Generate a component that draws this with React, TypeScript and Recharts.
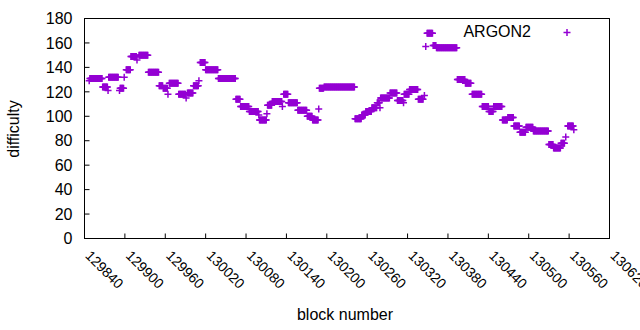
import { ScatterChart, Scatter, XAxis, YAxis, Legend, Label, ReferenceArea } from 'recharts';

// runs of consecutive blocks that share one difficulty value
const runStart = [
  129848, 129867, 129876, 129893, 129902, 129909, 129921, 129935, 129951, 129957,
  129966, 129980, 129993, 130002, 130012, 130020, 130039, 130065, 130072, 130085,
  130100, 130112, 130119, 130136, 130143, 130157, 130171, 130179, 130189, 130196,
  130242, 130252, 130258, 130267, 130275, 130280, 130294, 130305, 130315, 130323,
  130336, 130349, 130358, 130363, 130394, 130406, 130416, 130431, 130441, 130448,
  130461, 130469, 130478, 130487, 130496, 130507, 130530, 130537, 130548, 130558,
];
const runEnd = [
  129866, 129874, 129890, 129898, 129908, 129917, 129934, 129950, 129956, 129963,
  129979, 129990, 130001, 130009, 130019, 130038, 130064, 130071, 130084, 130098,
  130110, 130118, 130133, 130142, 130156, 130170, 130178, 130187, 130195, 130241,
  130251, 130257, 130266, 130274, 130278, 130293, 130304, 130313, 130322, 130335,
  130343, 130357, 130362, 130393, 130405, 130414, 130430, 130440, 130447, 130460,
  130468, 130477, 130486, 130495, 130506, 130529, 130536, 130547, 130553, 130566,
];
const runDifficulty = [
  131, 124, 132, 123, 138, 149, 150, 136, 125, 123,
  127, 118, 119, 125, 144, 138, 131, 114, 108, 104,
  97, 109, 112, 118, 111, 105, 100, 97, 123, 124,
  98, 101, 104, 107, 111, 115, 119, 113, 118, 122,
  114, 168, 158, 156, 130, 127, 118, 108, 104, 108,
  97, 99, 92, 87, 91, 88, 77, 74, 78, 92,
];

// isolated blocks
const loneBlock = [
  129847, 129875, 129892, 129899, 129918, 129964, 129991, 130010, 130099, 130111,
  130134, 130188, 130279, 130314, 130345, 130347, 130555, 130567,
];
const loneDifficulty = [
  129, 121, 121, 132, 146, 118, 115, 129, 101, 102,
  108, 106, 107, 111, 117, 157, 83, 89,
];

const xTicks = [
  129840, 129900, 129960, 130020, 130080, 130140, 130200,
  130260, 130320, 130380, 130440, 130500, 130560, 130620,
];
const yTicks = [0, 20, 40, 60, 80, 100, 120, 140, 160, 180];

const points: { block: number; difficulty: number }[] = [];
runStart.forEach((s, i) => {
  for (let b = s; b <= runEnd[i]; b++) points.push({ block: b, difficulty: runDifficulty[i] });
});
loneBlock.forEach((b, i) => points.push({ block: b, difficulty: loneDifficulty[i] }));

const PURPLE = '#9400d3';
const FONT = '"Liberation Sans", Arial, sans-serif';
const LINE = { stroke: '#000', strokeWidth: 1 };

const Plus = (props: any) => {
  const { cx, cy } = props;
  if (cx == null || cy == null) return null;
  return (
    <path
      d={`M${cx - 3.5},${cy}H${cx + 3.5}M${cx},${cy - 3.5}V${cy + 3.5}`}
      stroke={PURPLE}
      strokeWidth={1.5}
      fill="none"
    />
  );
};

const Nothing = () => null;

// labels rotated like gnuplot's "rotate by -45"
const XTick = (props: any) => {
  const { x, y, payload } = props;
  return (
    <g transform={`translate(${x},${y + 23})`}>
      <text x={0} y={0} transform="rotate(45)" textAnchor="start" fontSize={14} fontFamily={FONT} fill="#000">
        {payload.value}
      </text>
    </g>
  );
};

const LegendBox = () => (
  <svg width={640} height={45}>
    <text x={531} y={37} textAnchor="end" fontSize={16} fontFamily={FONT} fill="#000">
      ARGON2
    </text>
    <path d="M563.5,32.5H570.5M567,29V36" stroke={PURPLE} strokeWidth={1.5} fill="none" />
  </svg>
);

export default function App() {
  return (
    <div style={{ position: 'absolute', left: 0, top: 0, background: '#fff' }}>
      <ScatterChart width={640} height={330} margin={{ top: 17.5, right: 29.5, bottom: 0, left: 0 }}>
        <ReferenceArea
          x1={129840}
          x2={130620}
          y1={0}
          y2={180}
          fill="none"
          stroke="#000"
          strokeWidth={1}
          ifOverflow="visible"
        />
        <XAxis
          dataKey="block"
          type="number"
          domain={[129840, 130620]}
          ticks={xTicks}
          interval={0}
          height={91.5}
          tickSize={-5}
          tickMargin={0}
          axisLine={LINE}
          tickLine={LINE}
          tick={<XTick />}
        >
          <Label
            content={() => (
              <text x={345} y={320} textAnchor="middle" fontSize={16} fontFamily={FONT} fill="#000">
                block number
              </text>
            )}
          />
        </XAxis>
        <XAxis
          xAxisId="top"
          dataKey="block"
          orientation="top"
          type="number"
          domain={[129840, 130620]}
          ticks={xTicks}
          interval={0}
          height={1}
          tickSize={-5}
          axisLine={LINE}
          tickLine={LINE}
          tick={false}
        />
        <YAxis
          dataKey="difficulty"
          type="number"
          domain={[0, 180]}
          ticks={yTicks}
          interval={0}
          width={84.5}
          tickSize={-5}
          tickMargin={17}
          axisLine={LINE}
          tickLine={LINE}
          tick={{ fontSize: 16, fontFamily: FONT, fill: '#000' }}
        >
          <Label
            content={() => (
              <text
                x={18.5}
                y={129}
                transform="rotate(-90 18.5 129)"
                textAnchor="middle"
                fontSize={16}
                fontFamily={FONT}
                fill="#000"
              >
                difficulty
              </text>
            )}
          />
        </YAxis>
        <YAxis
          yAxisId="right"
          dataKey="difficulty"
          orientation="right"
          type="number"
          domain={[0, 180]}
          ticks={yTicks}
          interval={0}
          width={1}
          tickSize={-5}
          axisLine={LINE}
          tickLine={LINE}
          tick={false}
        />
        <Legend
          layout="horizontal"
          verticalAlign="middle"
          wrapperStyle={{ top: 0, left: 0, width: 640 }}
          content={<LegendBox />}
        />
        <Scatter
          name="mirror"
          data={points}
          xAxisId="top"
          yAxisId="right"
          shape={<Nothing />}
          legendType="none"
          isAnimationActive={false}
        />
        <Scatter name="ARGON2" data={points} shape={<Plus />} isAnimationActive={false} />
      </ScatterChart>
    </div>
  );
}
